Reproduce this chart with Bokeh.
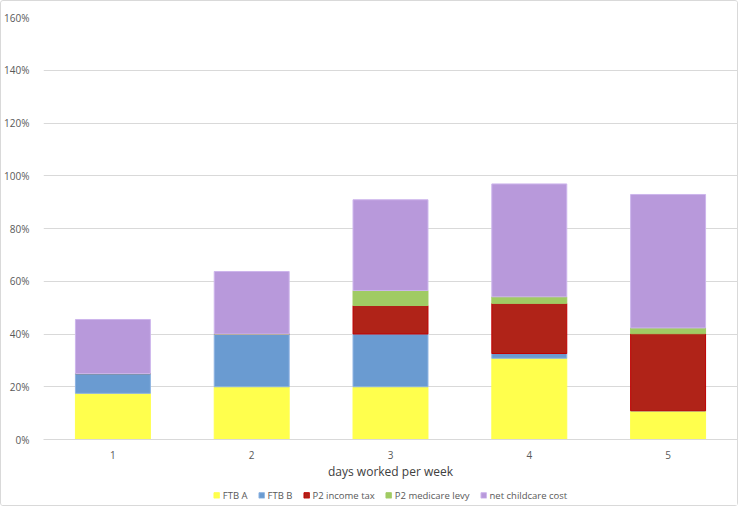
from bokeh.plotting import figure
from bokeh.layouts import column
from bokeh.models import FactorRange, Range1d, Legend, LegendItem, PrintfTickFormatter, FixedTicker
from bokeh.embed import file_html
from bokeh.resources import INLINE

days = ["1", "2", "3", "4", "5"]
ftb_a = [17.5, 20.0, 20.0, 30.8, 10.9]
ftb_b = [7.5, 20.0, 20.0, 1.8, 0.0]
p2_income_tax = [0.0, 0.0, 10.8, 19.0, 29.2]
p2_medicare = [0.0, 0.0, 5.7, 2.5, 2.2]
net_childcare = [20.5, 23.7, 34.4, 42.8, 50.6]
y_ticks = [0, 20, 40, 60, 80, 100, 120, 140, 160]

series = ["FTB A", "FTB B", "P2 income tax", "P2 medicare levy", "net childcare cost"]
fills = ["#FFFF4D", "#6A9BD1", "#B02318", "#A0CB63", "#B899DB"]
lines = ["#FFFF4D", "#8DB3E2", "#C00000", "#A0CB63", "#CDB5EC"]

data = {"days": days, "FTB A": ftb_a, "FTB B": ftb_b, "P2 income tax": p2_income_tax,
        "P2 medicare levy": p2_medicare, "net childcare cost": net_childcare}

p = figure(x_range=FactorRange(*days), y_range=Range1d(0, 160), width=736, height=484,
           output_backend="svg", toolbar_location=None, min_border_left=11,
           min_border_right=0, min_border_top=16, min_border_bottom=46)

rs = p.vbar_stack(series, x="days", width=0.54, source=data, fill_color=fills,
                  line_color=lines, line_width=1)

p.yaxis.ticker = FixedTicker(ticks=y_ticks)
p.yaxis.formatter = PrintfTickFormatter(format="%d%%")
p.yaxis.axis_line_color = None
p.yaxis.major_tick_line_color = None
p.yaxis.minor_tick_line_color = None
p.yaxis.major_label_text_color = "#595959"
p.yaxis.major_label_text_font = "Open Sans"
p.yaxis.major_label_text_font_size = "10px"
p.yaxis.major_label_standoff = 8

p.xaxis.axis_line_color = "#D9D9D9"
p.xaxis.major_tick_line_color = None
p.xaxis.minor_tick_line_color = None
p.xaxis.major_label_text_color = "#595959"
p.xaxis.major_label_text_font = "Open Sans"
p.xaxis.major_label_text_font_size = "10px"
p.xaxis.major_label_standoff = 5
p.xaxis.axis_label = "days worked per week"
p.xaxis.axis_label_text_font = "Open Sans"
p.xaxis.axis_label_text_font_style = "normal"
p.xaxis.axis_label_text_font_size = "12px"
p.xaxis.axis_label_text_color = "#404040"
p.xaxis.axis_label_standoff = 1

p.xgrid.grid_line_color = None
p.ygrid.grid_line_color = "#D9D9D9"
p.ygrid.grid_line_width = 1
p.outline_line_color = None
p.x_range.range_padding = 0
p.x_range.group_padding = 0

# legend strip below the chart (its swatches reuse the series colours)
lg = figure(x_range=Range1d(0, 1), y_range=Range1d(0, 1), width=736, height=20,
            output_backend="svg", toolbar_location=None, min_border_left=8,
            min_border_right=0, min_border_top=0, min_border_bottom=0)
lg.axis.visible = False
lg.grid.visible = False
lg.outline_line_color = None
dummies = [lg.vbar(x=[-10], top=[-10], bottom=[-11], width=0.1, fill_color=f, line_color=l)
           for f, l in zip(fills, lines)]
items = [LegendItem(label=s, renderers=[r]) for s, r in zip(series, dummies)]
legend = Legend(items=items, orientation="horizontal", location="center",
                glyph_width=7, glyph_height=7, label_text_font="Open Sans",
                label_text_font_size="9.5px", label_text_color="#595959",
                border_line_color=None, background_fill_alpha=0, spacing=10,
                label_standoff=3, margin=0, padding=3)
lg.add_layout(legend, "center")

layout = column(p, lg, spacing=0)
layout.styles = {"border": "1px solid #D9D9D9", "border-radius": "3px"}
open("out.html", "w").write(file_html(layout, INLINE))
